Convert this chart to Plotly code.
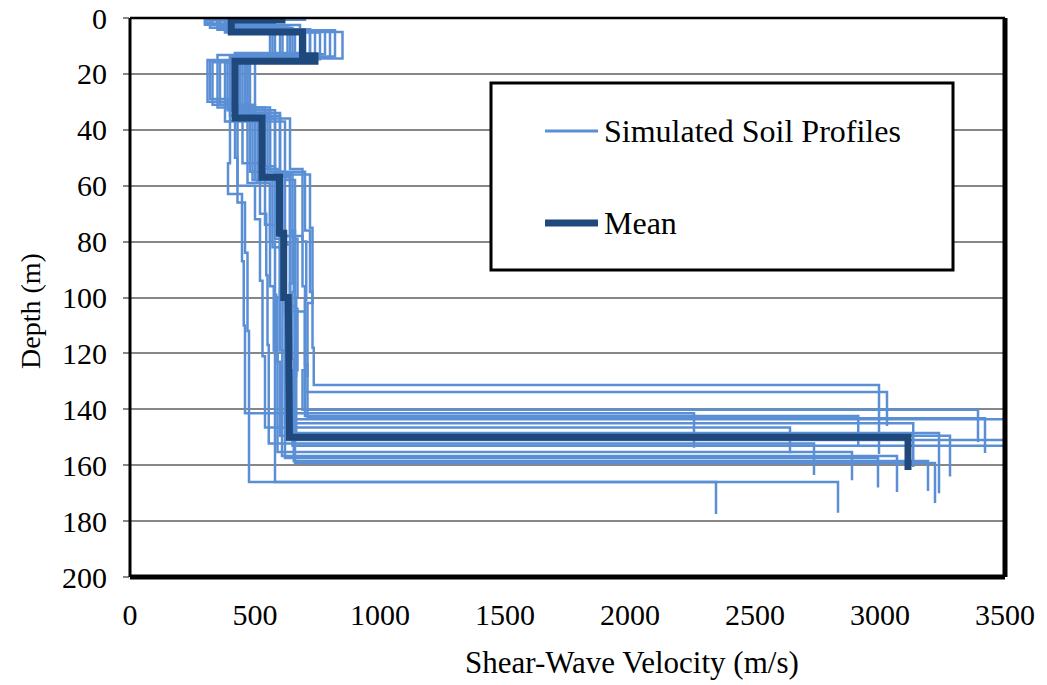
import plotly.graph_objects as go

# ---------------- data ----------------
# Each simulated profile: layer shear-wave velocities (m/s) and layer bottom depths (m);
# the last entry is the half-space (rock) velocity and the depth where the drawn profile stops.
profile_velocities = [
    [650, 520, 720, 450, 560, 700, 720, 730, 735, 2996],
    [600, 380, 780, 480, 640, 690, 705, 700, 700, 3028],
    [550, 320, 640, 360, 500, 610, 690, 700, 690, 3392],
    [450, 300, 560, 310, 400, 392, 448, 455, 460, 2256],
    [690, 450, 850, 400, 600, 720, 730, 710, 700, 2913],
    [620, 350, 700, 440, 520, 600, 640, 700, 710, 3420],
    [580, 400, 610, 380, 470, 560, 600, 620, 640, 3620],
    [500, 330, 680, 420, 540, 580, 610, 600, 620, 3133],
    [640, 420, 740, 470, 430, 500, 520, 530, 540, 2640],
    [700, 500, 820, 430, 580, 650, 640, 660, 665, 3236],
    [520, 360, 600, 390, 490, 570, 600, 590, 600, 3280],
    [600, 440, 660, 350, 560, 620, 650, 640, 630, 3650],
    [560, 380, 760, 500, 600, 640, 660, 670, 650, 3560],
    [470, 310, 580, 330, 450, 520, 545, 550, 555, 2736],
    [660, 470, 700, 420, 510, 560, 580, 585, 590, 2888],
    [610, 390, 800, 460, 530, 590, 600, 610, 608, 3068],
    [540, 350, 650, 410, 580, 600, 620, 625, 620, 2992],
    [680, 480, 720, 440, 550, 640, 655, 650, 655, 3192],
    [630, 410, 690, 470, 620, 660, 670, 665, 660, 3220],
    [480, 300, 570, 320, 420, 430, 460, 470, 476, 2832],
    [590, 360, 630, 400, 480, 540, 560, 575, 580, 2344],
]
profile_bottoms = [
    [0.5, 4.0, 14.0, 33, 55, 76, 98, 118, 131.3, 156.0],
    [0.6, 4.5, 13.0, 36, 54, 80, 101, 122, 133.8, 146.0],
    [0.7, 3.5, 15.5, 31, 58, 78, 96, 126, 140.2, 151.7],
    [0.4, 2.0, 15.0, 30, 52, 63, 87, 110, 141.4, 153.8],
    [0.5, 5.0, 14.5, 35, 56, 75, 102, 128, 142.4, 153.5],
    [0.6, 4.2, 13.5, 34, 57, 81, 105, 124, 143.2, 155.6],
    [0.5, 3.8, 16.0, 37, 59, 74, 99, 127, 143.6, 158.0],
    [0.8, 2.5, 12.5, 32, 53, 79, 97, 119, 145.0, 160.6],
    [0.5, 4.8, 14.2, 35, 60, 72, 94, 121, 146.5, 155.7],
    [0.6, 4.4, 13.8, 36, 56, 77, 103, 125, 148.5, 170.0],
    [0.7, 3.2, 15.2, 33, 58, 82, 100, 123, 149.5, 164.0],
    [0.5, 4.6, 13.2, 32, 55, 78, 95, 129, 151.0, 165.0],
    [0.6, 5.2, 14.8, 34, 57, 76, 104, 126, 153.0, 163.0],
    [0.5, 2.2, 15.8, 31, 52, 70, 92, 117, 152.2, 163.5],
    [0.6, 4.0, 12.8, 35, 59, 80, 99, 120, 155.3, 165.4],
    [0.5, 4.5, 14.0, 36, 54, 75, 101, 124, 156.7, 169.6],
    [0.7, 3.6, 13.6, 33, 57, 83, 106, 127, 157.4, 168.0],
    [0.5, 4.3, 15.0, 34, 56, 77, 98, 122, 158.5, 169.2],
    [0.6, 4.9, 14.4, 37, 58, 79, 100, 128, 159.2, 173.5],
    [0.4, 2.4, 15.4, 29, 50, 66, 84, 112, 166.0, 177.0],
    [0.5, 3.4, 13.4, 33, 55, 74, 96, 119, 166.0, 177.5],
]

mean_velocities = [608, 405, 690, 740, 420, 528, 598, 615, 633, 638, 3112]
mean_bottoms = [0.7, 5.0, 13.5, 15.5, 35.8, 57.0, 77.0, 100.0, 125.0, 150.0, 161.7]

x_ticks = [0, 500, 1000, 1500, 2000, 2500, 3000, 3500]
y_ticks = [0, 20, 40, 60, 80, 100, 120, 140, 160, 180, 200]

PROFILE_COLOR = "#5A8FD5"
MEAN_COLOR = "#1F497D"
FONT = "'Liberation Serif', 'Times New Roman', 'DejaVu Serif', serif"


def step_coords(vs, bottoms):
    xs, ys = [], []
    top = 0.0
    for v, b in zip(vs, bottoms):
        xs += [v, v]
        ys += [top, b]
        top = b
    return xs, ys


# ---------------- figure ----------------
fig = go.Figure()

for vs, bs in zip(profile_velocities, profile_bottoms):
    xs, ys = step_coords(vs, bs)
    fig.add_trace(go.Scatter(x=xs, y=ys, mode="lines",
                             line=dict(color=PROFILE_COLOR, width=2.5),
                             name="Simulated Soil Profiles", showlegend=False,
                             hoverinfo="skip"))

mx, my = step_coords(mean_velocities, mean_bottoms)
fig.add_trace(go.Scatter(x=mx, y=my, mode="lines",
                         line=dict(color=MEAN_COLOR, width=7),
                         name="Mean", showlegend=False))

W, H = 1047, 685
L, R, T, B = 130, 1005, 18, 577


def px(x):
    return (x - L) / (R - L)


def py(y):
    return (B - y) / (B - T)


shapes = [
    # plot frame
    dict(type="line", xref="paper", yref="paper", x0=0, x1=1, y0=1, y1=1,
         line=dict(color="black", width=2.5), layer="above"),
    dict(type="line", xref="paper", yref="paper", x0=0, x1=0, y0=0, y1=1,
         line=dict(color="black", width=3), layer="above"),
    dict(type="line", xref="paper", yref="paper", x0=0, x1=1, y0=0, y1=0,
         line=dict(color="black", width=5), layer="above"),
    dict(type="line", xref="paper", yref="paper", x0=1, x1=1, y0=0, y1=1,
         line=dict(color="black", width=5), layer="above"),
    # legend box
    dict(type="rect", xref="paper", yref="paper",
         x0=px(491), x1=px(953), y0=py(270), y1=py(83),
         line=dict(color="black", width=3), fillcolor="white", layer="above"),
    dict(type="line", xref="paper", yref="paper",
         x0=px(545), x1=px(598), y0=py(131), y1=py(131),
         line=dict(color=PROFILE_COLOR, width=3), layer="above"),
    dict(type="line", xref="paper", yref="paper",
         x0=px(545), x1=px(598), y0=py(223), y1=py(223),
         line=dict(color=MEAN_COLOR, width=7), layer="above"),
]

annotations = [
    dict(text="Simulated Soil Profiles", xref="paper", yref="paper",
         x=px(602), y=py(131), xanchor="left", yanchor="middle", showarrow=False,
         font=dict(family=FONT, size=32, color="black")),
    dict(text="Mean", xref="paper", yref="paper",
         x=px(602), y=py(223), xanchor="left", yanchor="middle", showarrow=False,
         font=dict(family=FONT, size=32, color="black")),
    dict(text="Shear-Wave Velocity (m/s)", xref="paper", yref="paper",
         x=px(632), y=py(663), xanchor="center", yanchor="middle", showarrow=False,
         font=dict(family=FONT, size=31, color="black")),
    dict(text="Depth (m)", xref="paper", yref="paper",
         x=px(30), y=py(311), xanchor="center", yanchor="middle", showarrow=False,
         textangle=-90, font=dict(family=FONT, size=28, color="black")),
]

fig.update_layout(
    width=W, height=H,
    margin=dict(l=L, r=W - R, t=T, b=H - B, pad=0, autoexpand=False),
    plot_bgcolor="white", paper_bgcolor="white",
    showlegend=False,
    font=dict(family=FONT, color="black", size=30),
    shapes=shapes, annotations=annotations,
    xaxis=dict(range=[0, 3500], tickvals=x_ticks, ticktext=[str(v) for v in x_ticks],
               showgrid=False, zeroline=False, showline=False, ticks="",
               automargin=False,
               tickfont=dict(family=FONT, size=30, color="black"),
               ticklabelstandoff=17, fixedrange=True),
    yaxis=dict(range=[200, 0], tickvals=y_ticks, ticktext=[str(v) for v in y_ticks],
               showgrid=True, gridcolor="#878787", gridwidth=2, zeroline=False,
               showline=False, ticks="outside", ticklen=6, tickwidth=1.5,
               tickcolor="#878787", automargin=False,
               tickfont=dict(family=FONT, size=30, color="black"),
               ticklabelstandoff=10, fixedrange=True),
)

fig.write_html("out.html")
